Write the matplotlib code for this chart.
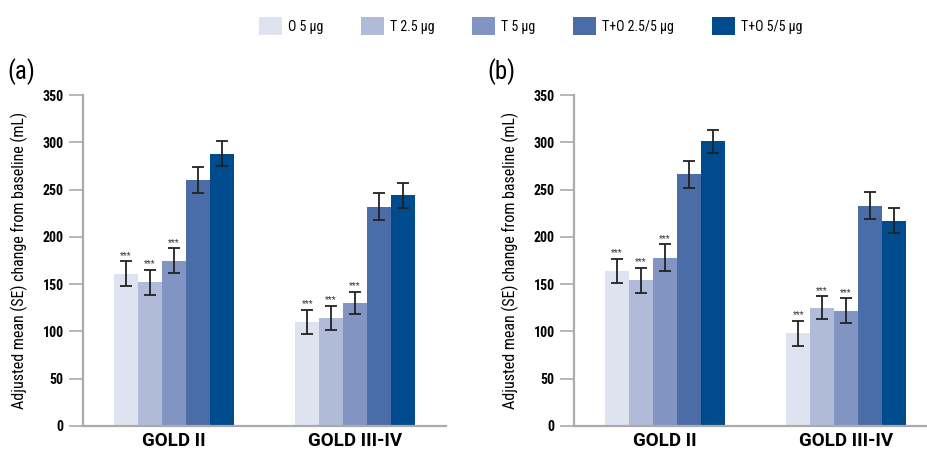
import numpy as np
import matplotlib
matplotlib.use('Agg')
import matplotlib.pyplot as plt
from matplotlib.patches import Patch

plt.rcParams['font.family'] = ['Roboto Condensed', 'Liberation Sans Narrow',
                               'Liberation Sans', 'DejaVu Sans']

# ---------------------------------------------------------------
# data
# ---------------------------------------------------------------
groups = ['GOLD II', 'GOLD III-IV']
treatments = ['O 5 μg', 'T 2.5 μg', 'T 5 μg', 'T+O 2.5/5 μg', 'T+O 5/5 μg']
colors = ['#dfe3f0', '#b0bbd9', '#8194c2', '#4a6da7', '#004b8d']

# panel (a)
mean_a = [[161, 152, 175, 260, 288],
          [110, 114, 130, 232, 244]]
se_a = [[13, 13, 13, 14, 13],
        [13, 13, 12, 14, 13]]
# panel (b)
mean_b = [[164, 154, 178, 266, 301],
          [98, 125, 122, 233, 217]]
se_b = [[13, 13, 14, 14, 12],
        [13, 12, 13, 14, 13]]
# significance marks (first three treatments)
sig = ['***', '***', '***', '', '']

fig = plt.figure(figsize=(9.28, 4.54), dpi=100)

def draw_panel(ax, means, ses):
    x = np.arange(len(groups))
    width = 0.132
    for i in range(len(treatments)):
        offs = (i - 2) * width
        vals = [m[i] for m in means]
        errs = [s[i] for s in ses]
        ax.bar(x + offs, vals, width, color=colors[i], zorder=2)
        ax.errorbar(x + offs, vals, yerr=errs, fmt='none', ecolor='#222222',
                    elinewidth=1.3, capsize=4, capthick=1.3, zorder=3)
        if sig[i]:
            for xi, v, e in zip(x, vals, errs):
                ax.text(xi + offs, v + e + 1.5, sig[i], ha='center', va='bottom',
                        fontsize=6.5, color='#333333')
    ax.set_xlim(-0.5, 1.5)
    ax.set_ylim(0, 350)
    ax.set_yticks(np.arange(0, 351, 50))
    ax.set_xticks(x)
    ax.set_xticklabels(groups, fontsize=13.5, fontweight='bold',
                       family=['Roboto', 'DejaVu Sans'])
    ax.tick_params(axis='x', length=0, pad=4)
    ax.tick_params(axis='y', direction='out', length=10, width=1.2,
                   color='#aaaaaa', labelsize=10, pad=4)
    for t in ax.get_yticklabels():
        t.set_fontweight('bold')
    for s in ['top', 'right']:
        ax.spines[s].set_visible(False)
    for s in ['left', 'bottom']:
        ax.spines[s].set_color('#aaaaaa')
        ax.spines[s].set_linewidth(1.6)
    ax.set_ylabel('Adjusted mean (SE) change from baseline (mL)', fontsize=11.5)
    ax.yaxis.set_label_coords(-0.152, 0.5)

ax1 = fig.add_axes([0.0894, 0.0617, 0.391, 0.729])
draw_panel(ax1, mean_a, se_a)
ax2 = fig.add_axes([0.6185, 0.0617, 0.391, 0.729])
draw_panel(ax2, mean_b, se_b)

fig.text(7 / 928, 1 - 72 / 454, '(a)', fontsize=18, ha='left', va='center')
fig.text(487 / 928, 1 - 72 / 454, '(b)', fontsize=18, ha='left', va='center')

handles = [Patch(facecolor=c, edgecolor='none') for c in colors]
fig.legend(handles, treatments, loc='center', bbox_to_anchor=(0.5717, 1 - 26 / 454),
           ncol=5, frameon=False, fontsize=10, handlelength=1.65,
           handleheight=1.58, columnspacing=2.7, handletextpad=0.45,
           borderpad=0)

plt.savefig('out.png', dpi=100)
